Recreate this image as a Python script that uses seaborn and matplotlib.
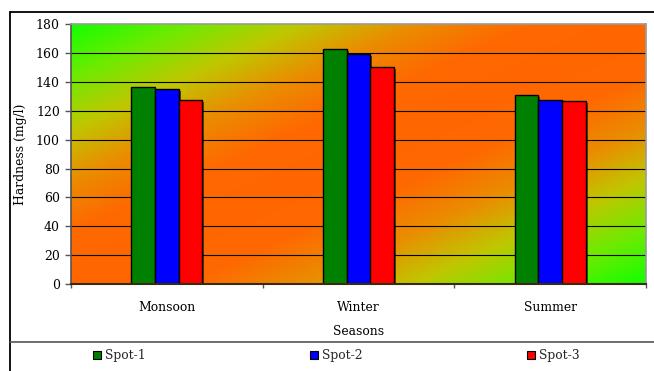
import numpy as np
import pandas as pd
import matplotlib
matplotlib.use("Agg")
import matplotlib.pyplot as plt
import matplotlib.patheffects as pe
from matplotlib.colors import LinearSegmentedColormap
from matplotlib.lines import Line2D
import seaborn as sns

# Hardness readings per season at three sampling spots
seasons = ["Monsoon", "Winter", "Summer"]
spots = ["Spot-1", "Spot-2", "Spot-3"]
spot1 = [136.3, 162.7, 130.8]
spot2 = [135.2, 159.4, 127.5]
spot3 = [127.5, 150.2, 126.6]
spot_colors = ["#008000", "#0000ff", "#ff0000"]
y_ticks = [0, 20, 40, 60, 80, 100, 120, 140, 160, 180]

df = pd.DataFrame({
    "Season": seasons * 3,
    "Spot": [s for s in spots for _ in seasons],
    "Hardness": spot1 + spot2 + spot3,
})

sns.set_theme(style="white")
plt.rcParams["font.family"] = ["DejaVu Serif"]
FS = 8.9
plt.rcParams["font.size"] = FS

fig = plt.figure(figsize=(6.54, 3.71), dpi=100)
W, H = 654, 371
ax = fig.add_axes([71 / W, 1 - 284 / H, (646 - 71) / W, (284 - 24.3) / H])

sns.barplot(data=df, x="Season", y="Hardness", hue="Spot", order=seasons,
            hue_order=spots, palette=spot_colors, width=0.37, gap=0,
            edgecolor="black", linewidth=1.0, saturation=1, legend=False, ax=ax)

for bar in ax.patches:
    bar.set_zorder(3)
    bar.set_path_effects([pe.SimplePatchShadow(offset=(1.5, -1.2), shadow_rgbFace="black", alpha=0.55),
                          pe.Normal()])

ax.set_xlim(-0.5, 2.5)
ax.set_ylim(0, 180)
ax.set_yticks(y_ticks)

# diagonal green-orange-green backdrop, green in the top-left and bottom-right corners
stops = [(0.0, (0.08, 1.0, 0.0)), (0.1, (0.43, 0.92, 0.0)), (0.2, (0.75, 0.78, 0.0)),
         (0.3, (0.92, 0.55, 0.0)), (0.4, (1.0, 0.41, 0.0)), (0.5, (1.0, 0.4, 0.0)),
         (0.6, (1.0, 0.41, 0.0)), (0.7, (0.92, 0.55, 0.0)), (0.8, (0.75, 0.78, 0.0)),
         (0.9, (0.43, 0.92, 0.0)), (1.0, (0.08, 1.0, 0.0))]
cmap = LinearSegmentedColormap.from_list("bg", stops)
u = np.linspace(0, 1, 400)
v = np.linspace(0, 1, 200)
U, V = np.meshgrid(u, v)
T = (U + V) / 2
ax.imshow(T, cmap=cmap, vmin=0, vmax=1, aspect="auto", origin="upper",
          extent=(-0.5, 2.5, 0, 180), zorder=0, interpolation="bilinear")
ax.set_xlim(-0.5, 2.5)
ax.set_ylim(0, 180)

for yv in y_ticks[1:-1]:
    ax.axhline(yv, color="black", lw=0.8, zorder=1)

for side in ["top", "right"]:
    ax.spines[side].set_color("#9a9a9a")
    ax.spines[side].set_linewidth(1.2)
ax.spines["left"].set_color("#555555")
ax.spines["left"].set_linewidth(1.2)
ax.spines["bottom"].set_color("#3a2a10")
ax.spines["bottom"].set_linewidth(1.5)
for s in ax.spines.values():
    s.set_zorder(4)

ax.tick_params(axis="y", left=True, length=4, width=1, color="#555555", pad=4,
               labelsize=FS, labelcolor="black")
ax.tick_params(axis="x", which="major", bottom=False, pad=6.5, labelsize=FS,
               labelcolor="black")
ax.set_xticks([-0.5, 0.5, 1.5, 2.5], minor=True)
ax.tick_params(axis="x", which="minor", bottom=True, length=3, width=1, color="#555555")

ax.set_xlabel("Seasons", fontsize=FS, labelpad=8, color="black")
ax.set_ylabel("Hardness (mg/l)", fontsize=FS, labelpad=6.5, color="black")

# outer chart frame and legend separator
fig.add_artist(Line2D([10 / W, 1], [1 - 12 / H, 1 - 12 / H], color="black", lw=1.3))
fig.add_artist(Line2D([10 / W, 10 / W], [0, 1 - 12 / H], color="black", lw=1.3))
fig.add_artist(Line2D([10 / W, 1], [1 - 342 / H, 1 - 342 / H], color="#555555", lw=1.2))

handles = [plt.Rectangle((0, 0), 1, 1, facecolor=c, edgecolor="black", lw=0.8)
           for c in spot_colors]
fig.legend(handles, spots, loc="center left", bbox_to_anchor=(93 / W, 1 - 356 / H),
           ncol=3, frameon=False, fontsize=FS, handlelength=0.65, handleheight=0.65,
           handletextpad=0.35, columnspacing=13.25, borderpad=0, borderaxespad=0)

fig.savefig("out.png", dpi=100)
